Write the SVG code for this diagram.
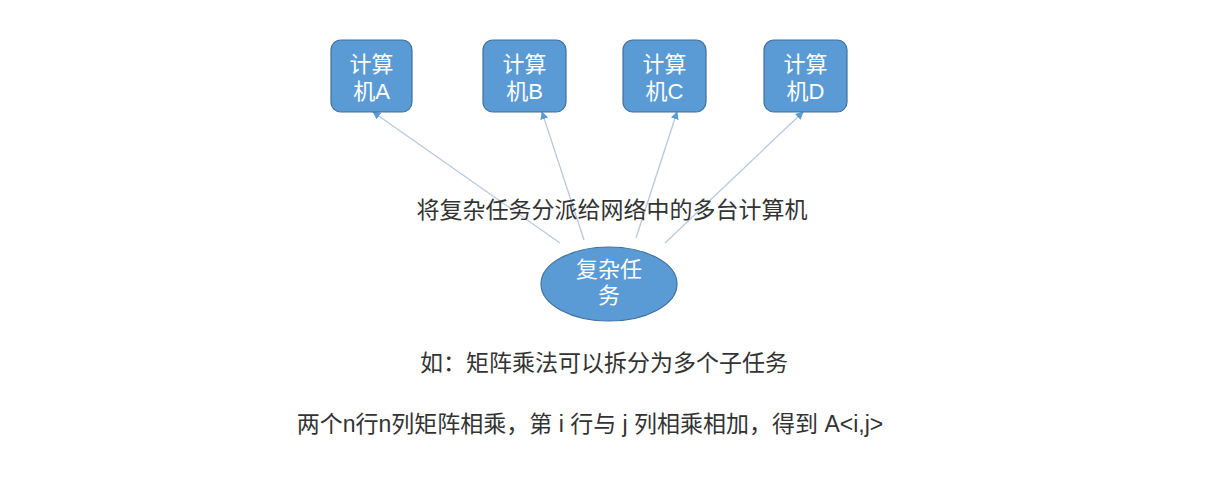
<svg xmlns="http://www.w3.org/2000/svg" width="1213" height="480" viewBox="0 0 1213 480">
<style>
.box{fill:#5b9bd5;stroke:#41719c;stroke-width:1.2}
.nt{font-family:"Liberation Sans","Noto Sans CJK SC",sans-serif;font-size:22px;fill:#ffffff;text-anchor:middle}
.lbl{font-family:"Liberation Sans","Noto Sans CJK SC",sans-serif;font-size:23px;fill:#333333;text-anchor:middle}
.con{stroke:#b7c9e0;stroke-width:1.3;fill:none;marker-end:url(#ah)}
</style>
<defs>
<marker id="ah" viewBox="0 0 10 10" refX="9" refY="5" markerWidth="8" markerHeight="8" markerUnits="userSpaceOnUse" orient="auto">
<path d="M0,0 L10,5 L0,10 z" fill="#5b9bd5"/>
</marker>
</defs>
<rect width="1213" height="480" fill="#ffffff"/>
<g id="connectors">
<line class="con" x1="560" y1="243" x2="373" y2="112"/>
<line class="con" x1="584" y1="240" x2="542" y2="112"/>
<line class="con" x1="636" y1="238" x2="677" y2="112"/>
<line class="con" x1="665" y1="243" x2="803" y2="112"/>
</g>
<g id="nodeA">
<rect class="box" x="331" y="40" width="81" height="72" rx="10"/>
<text class="nt" x="371.5" y="72">计算</text>
<text class="nt" x="371.5" y="99">机A</text>
</g>
<g id="nodeB">
<rect class="box" x="483" y="40" width="83" height="72" rx="10"/>
<text class="nt" x="524.5" y="72">计算</text>
<text class="nt" x="524.5" y="99">机B</text>
</g>
<g id="nodeC">
<rect class="box" x="623" y="40" width="83" height="72" rx="10"/>
<text class="nt" x="664.5" y="72">计算</text>
<text class="nt" x="664.5" y="99">机C</text>
</g>
<g id="nodeD">
<rect class="box" x="764" y="40" width="83" height="72" rx="10"/>
<text class="nt" x="805.5" y="72">计算</text>
<text class="nt" x="805.5" y="99">机D</text>
</g>
<g id="task">
<ellipse class="box" cx="609" cy="284" rx="68" ry="37"/>
<text class="nt" x="609" y="277">复杂任</text>
<text class="nt" x="609" y="303">务</text>
</g>
<g id="labels">
<text class="lbl" x="612" y="218">将复杂任务分派给网络中的多台计算机</text>
<text class="lbl" x="604" y="371">如：矩阵乘法可以拆分为多个子任务</text>
<text class="lbl" x="590" y="432">两个n行n列矩阵相乘，第 i 行与 j 列相乘相加，得到 A&lt;i,j&gt;</text>
</g>
</svg>
